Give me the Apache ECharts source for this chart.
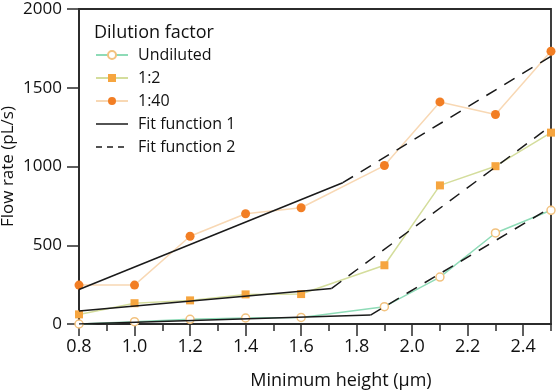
<!DOCTYPE html>
<html>
<head>
<meta charset="utf-8">
<script src="https://cdn.jsdelivr.net/npm/echarts@6/dist/echarts.min.js"></script>
<style>
html,body{margin:0;padding:0;background:#fff;}
#chart{width:556px;height:392px;}
</style>
</head>
<body>
<div id="chart"></div>
<script>
// Minimum height (µm)
const heights = [0.8, 1.0, 1.2, 1.4, 1.6, 1.9, 2.1, 2.3, 2.5];
// Flow rate (pL/s)
const undiluted = [0, 15, 30, 38, 42, 110, 298, 578, 722];
const dil1to2 = [61, 132, 150, 188, 190, 373, 880, 1002, 1215];
const dil1to40 = [247, 247, 557, 700, 738, 1006, 1410, 1330, 1732];

// Fit function 1 (low-height segments): [x, y] endpoints
const fit1Undiluted = [[0.8, 0], [1.85, 57]];
const fit1Dil1to2 = [[0.8, 82], [1.71, 226]];
const fit1Dil1to40 = [[0.8, 219], [1.75, 897]];
// Fit function 2 (high-height segments)
const fit2Undiluted = [[1.85, 57], [2.5, 740]];
const fit2Dil1to2 = [[1.71, 226], [2.5, 1258]];
const fit2Dil1to40 = [[1.75, 897], [2.5, 1700]];

const xMajorTicks = [0.8, 1.0, 1.2, 1.4, 1.6, 1.8, 2.0, 2.2, 2.4];
const xMinorTicks = [0.9, 1.1, 1.3, 1.5, 1.7, 1.9, 2.1, 2.3, 2.5];
const yTicks = [0, 500, 1000, 1500, 2000];

const FONT = 'Open Sans';
const AX = '#2b2b2b';
const FIT = '#1a1a1a';

function pts(ys) { return heights.map((h, i) => [h, ys[i]]); }

const chart = echarts.init(document.getElementById('chart'), null, {renderer: 'canvas'});

const fitStyle = (type) => ({color: FIT, width: 1.5, type: type});

const option = {
  animation: false,
  backgroundColor: '#fff',
  textStyle: {fontFamily: FONT, color: '#111'},
  title: {
    text: 'Dilution factor',
    left: 89, top: 19,
    textStyle: {fontFamily: FONT, fontSize: 18, fontWeight: 'normal', color: '#111'}
  },
  legend: {
    orient: 'vertical',
    left: 90, top: 42,
    itemWidth: 32, itemHeight: 10, itemGap: 7,
    textStyle: {fontFamily: FONT, fontSize: 16, lineHeight: 16, color: '#111', padding: [0, 0, 0, 5]},
    data: [
      'Undiluted', '1:2', '1:40',
      {name: 'Fit function 1', itemStyle: {opacity: 0}, lineStyle: {color: FIT, width: 1.5, type: 'solid'}},
      {name: 'Fit function 2', itemStyle: {opacity: 0}, lineStyle: {color: FIT, width: 1.5, type: [6, 5]}}
    ]
  },
  grid: {
    left: 79, right: 5, top: 9, bottom: 68,
    outerBoundsMode: 'none', containLabel: false,
    show: true, borderColor: AX, borderWidth: 1.8
  },
  xAxis: [{
    type: 'value', min: 0.8, max: 2.5, interval: 0.1,
    name: 'Minimum height (µm)', nameLocation: 'middle', nameGap: 48, nameMoveOverlap: false,
    nameTextStyle: {fontFamily: FONT, fontSize: 18, color: '#111', padding: [0, 0, 0, 52]},
    axisLine: {show: true, onZero: false, lineStyle: {color: AX, width: 1.8}},
    axisTick: {show: true, length: 12, lineStyle: {color: AX, width: 1.5}, customValues: xMajorTicks},
    axisLabel: {fontFamily: FONT, fontSize: 18, color: '#111', margin: 14, customValues: xMajorTicks,
      formatter: v => v.toFixed(1)},
    splitLine: {show: false}
  }, {
    type: 'value', min: 0.8, max: 2.5, interval: 0.1, position: 'bottom',
    axisLine: {show: false},
    axisTick: {show: true, length: 7, lineStyle: {color: AX, width: 1.5}, customValues: xMinorTicks},
    axisLabel: {show: false},
    splitLine: {show: false}
  }],
  yAxis: {
    type: 'value', min: 0, max: 2000, interval: 500,
    name: 'Flow rate (pL/s)', nameLocation: 'middle', nameGap: 62, nameRotate: 90, nameMoveOverlap: false,
    nameTextStyle: {fontFamily: FONT, fontSize: 17, color: '#111'},
    axisLine: {show: true, onZero: false, lineStyle: {color: AX, width: 1.8}},
    axisTick: {show: true, length: 12, lineStyle: {color: AX, width: 1.5}, customValues: yTicks},
    axisLabel: {fontFamily: FONT, fontSize: 17, color: '#111', margin: 17, customValues: yTicks,
      formatter: v => String(v)},
    splitLine: {show: false}
  },
  series: [
    {
      name: 'Undiluted', type: 'line', data: pts(undiluted),
      symbol: 'circle', symbolSize: 8,
      itemStyle: {color: '#fff', borderColor: '#f2c27f', borderWidth: 1.5},
      lineStyle: {color: '#8edbb7', width: 1.5}, z: 2
    },
    {
      name: '1:2', type: 'line', data: pts(dil1to2),
      symbol: 'rect', symbolSize: 8,
      itemStyle: {color: '#f6a53f'},
      lineStyle: {color: '#d4dd9c', width: 1.5}, z: 2
    },
    {
      name: '1:40', type: 'line', data: pts(dil1to40),
      symbol: 'circle', symbolSize: 9,
      itemStyle: {color: '#f27e24'},
      lineStyle: {color: '#f8d8b4', width: 1.5}, z: 2
    },
    {name: 'Fit function 1', type: 'line', data: fit1Undiluted, showSymbol: false, symbol: 'none', lineStyle: fitStyle('solid'), itemStyle: {color: FIT}, z: 3},
    {name: 'Fit function 1', type: 'line', data: fit1Dil1to2, showSymbol: false, symbol: 'none', lineStyle: fitStyle('solid'), itemStyle: {color: FIT}, z: 3},
    {name: 'Fit function 1', type: 'line', data: fit1Dil1to40, showSymbol: false, symbol: 'none', lineStyle: fitStyle('solid'), itemStyle: {color: FIT}, z: 3},
    {name: 'Fit function 2', type: 'line', data: fit2Undiluted, showSymbol: false, symbol: 'none', lineStyle: fitStyle([12, 9]), itemStyle: {color: FIT}, z: 3},
    {name: 'Fit function 2', type: 'line', data: fit2Dil1to2, showSymbol: false, symbol: 'none', lineStyle: fitStyle([12, 9]), itemStyle: {color: FIT}, z: 3},
    {name: 'Fit function 2', type: 'line', data: fit2Dil1to40, showSymbol: false, symbol: 'none', lineStyle: fitStyle([12, 9]), itemStyle: {color: FIT}, z: 3}
  ]
};
chart.setOption(option);
</script>
</body>
</html>
